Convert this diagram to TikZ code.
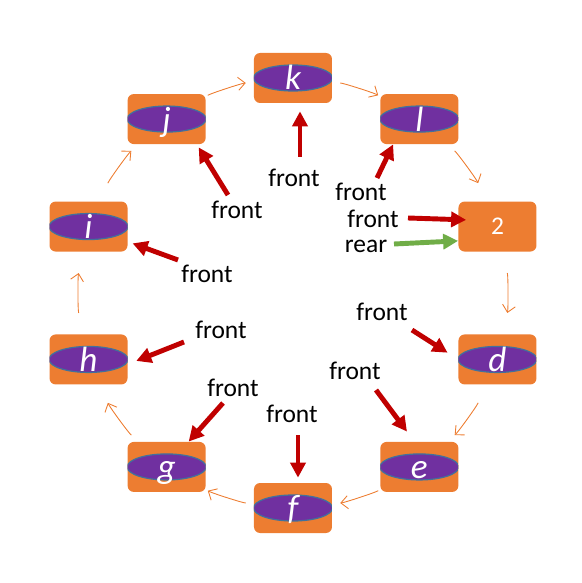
\documentclass[tikz,border=0pt]{standalone}
\usepackage{fontspec}
\setmainfont{Carlito}
\usetikzlibrary{arrows.meta}
\definecolor{boxorange}{HTML}{ED7D31}
\definecolor{elempurple}{HTML}{7030A0}
\definecolor{elemrim}{HTML}{41719C}
\definecolor{ptrred}{HTML}{C00000}
\definecolor{ptrgreen}{HTML}{70AD47}

\begin{document}
\begin{tikzpicture}[font=\fontsize{14.5}{17}\selectfont,
    slot/.style={fill=boxorange, rounded corners=3.5pt, minimum width=1.56cm, minimum height=1cm, inner sep=0pt, text=white},
    elem/.style={slot, font=\fontsize{20}{22}\selectfont\itshape, text height=15pt, text depth=1.4pt,
        path picture={\draw[elemrim, line width=0.7pt, fill=elempurple] (path picture bounding box.center) ellipse (0.79cm and 0.26cm);}},
    tag/.style={inner sep=1pt},
    link/.style={boxorange, line width=0.5pt, -{Straight Barb[length=1.4mm, width=2.6mm]}, shorten <=0.95cm, shorten >=0.95cm},
    ptr/.style={ptrred, line width=2.8pt, -{Triangle[length=3mm, width=3mm]}}]
    \useasboundingbox (-5.86, -5.80) rectangle (5.78, 5.86);

    \node (k) [elem] at (90:4.3) {k};
    \node (l) [elem] at (54:4.3) {l};
    \node (two) [slot, font=\fontsize{14.5}{16}\selectfont] at (18:4.3) {2};
    \node (d) [elem] at (-18:4.3) {d};
    \node (e) [elem] at (-54:4.3) {e};
    \node (f) [elem] at (-90:4.3) {f};
    \node (g) [elem] at (-126:4.3) {g};
    \node (h) [elem] at (-162:4.3) {h};
    \node (i) [elem] at (162:4.3) {i};
    \node (j) [elem] at (126:4.3) {j};

    \draw[link] (j.center) to[bend left=12] (k.center);
    \draw[link] (k.center) to[bend left=12] (l.center);
    \draw[link] (l.center) to[bend left=12] (two.center);
    \draw[link] (two.center) to[bend left=12] (d.center);
    \draw[link] (d.center) to[bend left=12] (e.center);
    \draw[link] (e.center) to[bend left=12] (f.center);
    \draw[link] (f.center) to[bend left=12] (g.center);
    \draw[link] (g.center) to[bend left=12] (h.center);
    \draw[link] (h.center) to[bend left=12] (i.center);
    \draw[link] (i.center) to[bend left=12] (j.center);

    % labels
    \node (fk) [tag] at (0.02, 2.30) {front};
    \node (fl) [tag] at (1.36, 2.02) {front};
    \node (ftwo) [tag] at (1.60, 1.49) {front};
    \node (rtwo) [tag] at (1.46, 0.93) {rear};
    \node (fd) [tag] at (1.78, -0.38) {front};
    \node (fe) [tag] at (1.24, -1.56) {front};
    \node (ff) [tag] at (-0.02, -2.42) {front};
    \node (fg) [tag] at (-1.20, -1.90) {front};
    \node (fh) [tag] at (-1.44, -0.74) {front};
    \node (fi) [tag] at (-1.72, 0.38) {front};
    \node (fj) [tag] at (-1.12, 1.66) {front};

    \coordinate (tk) at (0.14, 2.72);
    \coordinate (tl) at (1.68, 2.30);
    \coordinate (ttwo) at (2.30, 1.50);
    \coordinate (trear) at (2.02, 0.98);
    \coordinate (td) at (2.38, -0.74);
    \coordinate (te) at (1.66, -1.94);
    \coordinate (tf) at (0.10, -2.84);
    \coordinate (tg) at (-1.40, -2.20);
    \coordinate (th) at (-2.18, -0.98);
    \coordinate (ti) at (-2.30, 0.66);
    \coordinate (tj) at (-1.30, 1.96);

    \draw[ptr, shorten >=0.16cm] (tk) -- (k.south -| tk);
    \draw[ptr] (tl) -- (l.-136);
    \draw[ptr, shorten >=-0.16cm] (ttwo) -- (two.170);
    \draw[ptr, ptrgreen] (trear) -- (two.200);
    \draw[ptr, shorten >=0.25cm] (td) -- (d.west);
    \draw[ptr, shorten >=0.25cm] (te) -- (e.101);
    \draw[ptr, shorten >=0.1cm] (tf) -- (f.north -| tf);
    \draw[ptr] (tg) -- (g.49);
    \draw[ptr, shorten >=0.18cm] (th) -- (h.-7);
    \draw[ptr, shorten >=0.1cm] (ti) -- (i.-21);
    \draw[ptr, shorten >=0.07cm] (tj) -- (j.-40);
\end{tikzpicture}
\end{document}
